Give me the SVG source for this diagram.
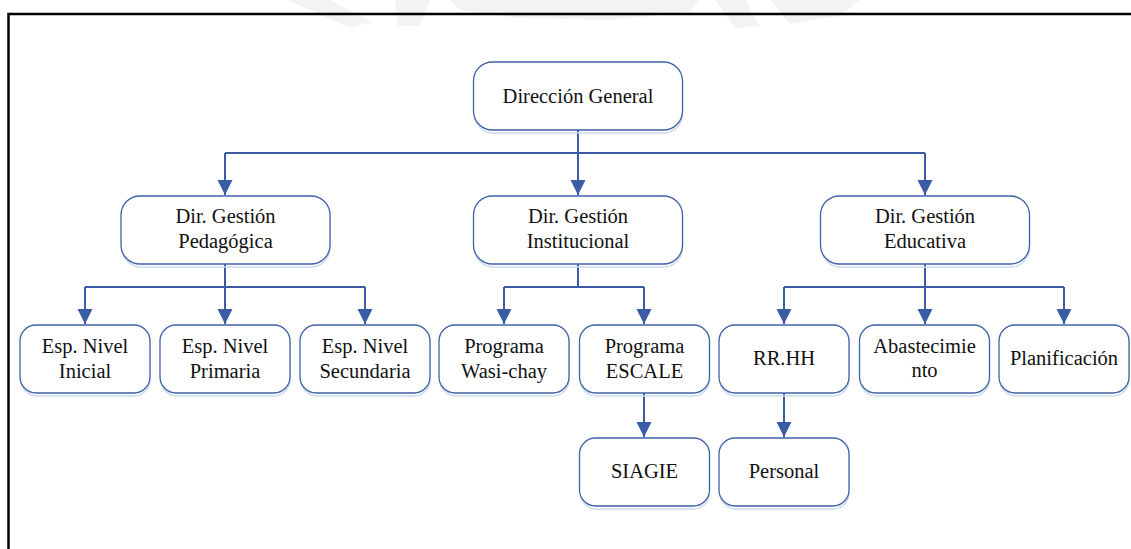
<svg xmlns="http://www.w3.org/2000/svg" width="1131" height="549" viewBox="0 0 1131 549">
  <style>
    .box { fill: #ffffff; stroke: #3f62a8; stroke-width: 1.3; }
    .glow { fill: none; stroke: #cddbef; stroke-width: 1.5; }
    text { font-family: "Liberation Serif", "Times New Roman", "DejaVu Serif", serif; font-size: 20.5px; fill: #111111; text-anchor: middle; }
    .wire { fill: none; stroke: #3a5ca5; stroke-width: 2; }
    .wm { fill: #f3f3f3; }
  </style>
  <defs>
    <marker id="arrow" markerUnits="userSpaceOnUse" markerWidth="16" markerHeight="16" refX="15" refY="7.5" orient="auto">
      <path d="M0,0 L15,7.5 L0,15 Z" fill="#3a5ca5"/>
    </marker>
  </defs>

  <!-- faint background watermark at the top edge -->
  <g id="watermark">
    <path class="wm" d="M288,0 L330,0 L372,22 L350,28 Z"/>
    <path class="wm" d="M395,0 L430,0 L420,26 L398,26 Z"/>
    <path class="wm" d="M450,0 L700,0 L690,12 L610,20 L520,18 L460,10 Z"/>
    <path class="wm" d="M715,0 L745,0 L760,26 L735,28 Z"/>
    <path class="wm" d="M770,0 L860,0 L840,16 L790,24 Z"/>
  </g>

  <!-- page frame -->
  <path d="M8.5,549 V14 H1131" fill="none" stroke="#000000" stroke-width="2.5"/>

  <!-- connectors -->
  <g id="connectors" class="wire">
    <path d="M578,130 V195" marker-end="url(#arrow)"/>
    <path d="M225,153 H925"/>
    <path d="M225,153 V195" marker-end="url(#arrow)"/>
    <path d="M925,153 V195" marker-end="url(#arrow)"/>

    <path d="M225,264 V324" marker-end="url(#arrow)"/>
    <path d="M85,287 H365"/>
    <path d="M85,287 V324" marker-end="url(#arrow)"/>
    <path d="M365,287 V324" marker-end="url(#arrow)"/>

    <path d="M578,264 V287"/>
    <path d="M504,287 H644"/>
    <path d="M504,287 V324" marker-end="url(#arrow)"/>
    <path d="M644,287 V324" marker-end="url(#arrow)"/>

    <path d="M925,264 V324" marker-end="url(#arrow)"/>
    <path d="M784,287 H1064"/>
    <path d="M784,287 V324" marker-end="url(#arrow)"/>
    <path d="M1064,287 V324" marker-end="url(#arrow)"/>

    <path d="M644,393 V437" marker-end="url(#arrow)"/>
    <path d="M784,393 V437" marker-end="url(#arrow)"/>
  </g>

  <!-- nodes -->
  <g id="n-direccion">
    <rect class="glow" x="474.5" y="64" width="208" height="69" rx="19"/>
    <rect class="box" x="473.5" y="62" width="209" height="68" rx="19"/>
    <text x="578" y="103">Dirección General</text>
  </g>

  <g id="n-pedagogica">
    <rect class="glow" x="122" y="198" width="208" height="69" rx="19"/>
    <rect class="box" x="121" y="196" width="209" height="68" rx="19"/>
    <text x="225.5" y="223">Dir. Gestión</text>
    <text x="225.5" y="248">Pedagógica</text>
  </g>

  <g id="n-institucional">
    <rect class="glow" x="474.5" y="198" width="208" height="69" rx="19"/>
    <rect class="box" x="473.5" y="196" width="209" height="68" rx="19"/>
    <text x="578" y="223">Dir. Gestión</text>
    <text x="578" y="248">Institucional</text>
  </g>

  <g id="n-educativa">
    <rect class="glow" x="821.5" y="198" width="208" height="69" rx="19"/>
    <rect class="box" x="820.5" y="196" width="209" height="68" rx="19"/>
    <text x="925" y="223">Dir. Gestión</text>
    <text x="925" y="248">Educativa</text>
  </g>

  <g id="n-inicial">
    <rect class="glow" x="21" y="327" width="129" height="69" rx="16"/>
    <rect class="box" x="20" y="325" width="130" height="68" rx="16"/>
    <text x="85" y="353">Esp. Nivel</text>
    <text x="85" y="378">Inicial</text>
  </g>

  <g id="n-primaria">
    <rect class="glow" x="161" y="327" width="129" height="69" rx="16"/>
    <rect class="box" x="160" y="325" width="130" height="68" rx="16"/>
    <text x="225" y="353">Esp. Nivel</text>
    <text x="225" y="378">Primaria</text>
  </g>

  <g id="n-secundaria">
    <rect class="glow" x="301" y="327" width="129" height="69" rx="16"/>
    <rect class="box" x="300" y="325" width="130" height="68" rx="16"/>
    <text x="365" y="353">Esp. Nivel</text>
    <text x="365" y="378">Secundaria</text>
  </g>

  <g id="n-wasichay">
    <rect class="glow" x="440" y="327" width="129" height="69" rx="16"/>
    <rect class="box" x="439" y="325" width="130" height="68" rx="16"/>
    <text x="504" y="353">Programa</text>
    <text x="504" y="378">Wasi-chay</text>
  </g>

  <g id="n-escale">
    <rect class="glow" x="580.5" y="327" width="129" height="69" rx="16"/>
    <rect class="box" x="579.5" y="325" width="130" height="68" rx="16"/>
    <text x="644.5" y="353">Programa</text>
    <text x="644.5" y="378">ESCALE</text>
  </g>

  <g id="n-rrhh">
    <rect class="glow" x="720" y="327" width="129" height="69" rx="16"/>
    <rect class="box" x="719" y="325" width="130" height="68" rx="16"/>
    <text x="784" y="365">RR.HH</text>
  </g>

  <g id="n-abastecimiento">
    <rect class="glow" x="860.5" y="327" width="129" height="69" rx="16"/>
    <rect class="box" x="859.5" y="325" width="130" height="68" rx="16"/>
    <text x="924.5" y="353">Abastecimie</text>
    <text x="924.5" y="377">nto</text>
  </g>

  <g id="n-planificacion">
    <rect class="glow" x="1000" y="327" width="129" height="69" rx="16"/>
    <rect class="box" x="999" y="325" width="130" height="68" rx="16"/>
    <text x="1064" y="365">Planificación</text>
  </g>

  <g id="n-siagie">
    <rect class="glow" x="580.5" y="440" width="129" height="69" rx="16"/>
    <rect class="box" x="579.5" y="438" width="130" height="68" rx="16"/>
    <text x="644.5" y="478">SIAGIE</text>
  </g>

  <g id="n-personal">
    <rect class="glow" x="720" y="440" width="129" height="69" rx="16"/>
    <rect class="box" x="719" y="438" width="130" height="68" rx="16"/>
    <text x="784" y="478">Personal</text>
  </g>
</svg>
